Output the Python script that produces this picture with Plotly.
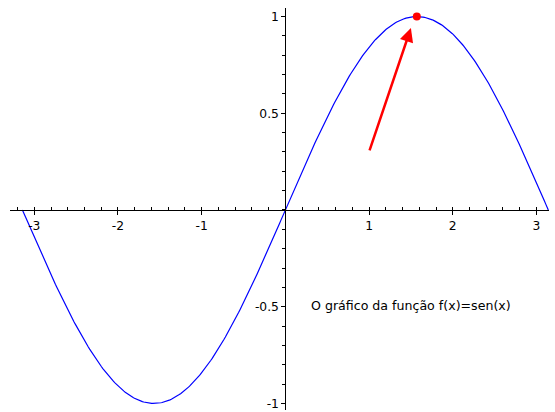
import numpy as np
import plotly.graph_objects as go

# Function curve: f(x) = sen(x) on [-pi, pi]
x_vals = np.linspace(-np.pi, np.pi, 400)
y_vals = np.sin(x_vals)

# Highlighted maximum and arrow pointing at it
max_x = [np.pi / 2]
max_y = [1.0]
arrow_tail = (1.0, 0.3)
arrow_tip = (1.5, 0.94)

caption = "O gráfico da função f(x)=sen(x)"
caption_pos = (1.5, -0.495)

x_ticks = [-3, -2, -1, 1, 2, 3]
x_labels = ["-3", "-2", "-1", "1", "2", "3"]
y_ticks = [-1, -0.5, 0.5, 1]
y_labels = ["-1", "-0.5", "0.5", "1"]

x_range = [-3.29, 3.15]
y_range = [-1.034, 1.044]

fig = go.Figure()
fig.add_trace(go.Scatter(x=x_vals, y=y_vals, mode="lines",
                         line=dict(color="#0000ff", width=1.2),
                         hoverinfo="skip", showlegend=False))
fig.add_trace(go.Scatter(x=max_x, y=max_y, mode="markers",
                         marker=dict(color="#ff0000", size=8),
                         showlegend=False))

fig.add_annotation(x=arrow_tip[0], y=arrow_tip[1], ax=arrow_tail[0], ay=arrow_tail[1],
                   xref="x", yref="y", axref="x", ayref="y",
                   showarrow=True, arrowhead=2, arrowsize=1.1, arrowwidth=2.5,
                   arrowcolor="#ff0000", text="", standoff=0)
fig.add_annotation(x=caption_pos[0], y=caption_pos[1], xref="x", yref="y",
                   text=caption, showarrow=False,
                   font=dict(family="DejaVu Sans", size=12.6, color="black"))

x_pos0 = (0 - y_range[0]) / (y_range[1] - y_range[0])
y_pos0 = (0 - x_range[0]) / (x_range[1] - x_range[0])

fig.update_layout(
    width=555, height=412,
    margin=dict(l=10, r=6, t=8, b=2),
    plot_bgcolor="white", paper_bgcolor="white",
    font=dict(family="DejaVu Sans", size=12.3, color="black"),
    xaxis=dict(range=x_range, anchor="free", position=x_pos0,
               showline=True, linecolor="black", linewidth=1,
               showgrid=False, zeroline=False,
               tickmode="array", tickvals=x_ticks, ticktext=x_labels,
               ticks="outside", ticklen=4, tickcolor="black",
               minor=dict(dtick=0.2, tick0=0, ticks="inside", ticklen=3,
                          tickcolor="black", showgrid=False)),
    yaxis=dict(range=y_range, anchor="free", position=y_pos0,
               showline=True, linecolor="black", linewidth=1,
               showgrid=False, zeroline=False,
               tickmode="array", tickvals=y_ticks, ticktext=y_labels,
               ticks="outside", ticklen=4, tickcolor="black",
               minor=dict(dtick=0.1, tick0=0, ticks="outside", ticklen=3,
                          tickcolor="black", showgrid=False)),
)

fig.write_html("out.html")
